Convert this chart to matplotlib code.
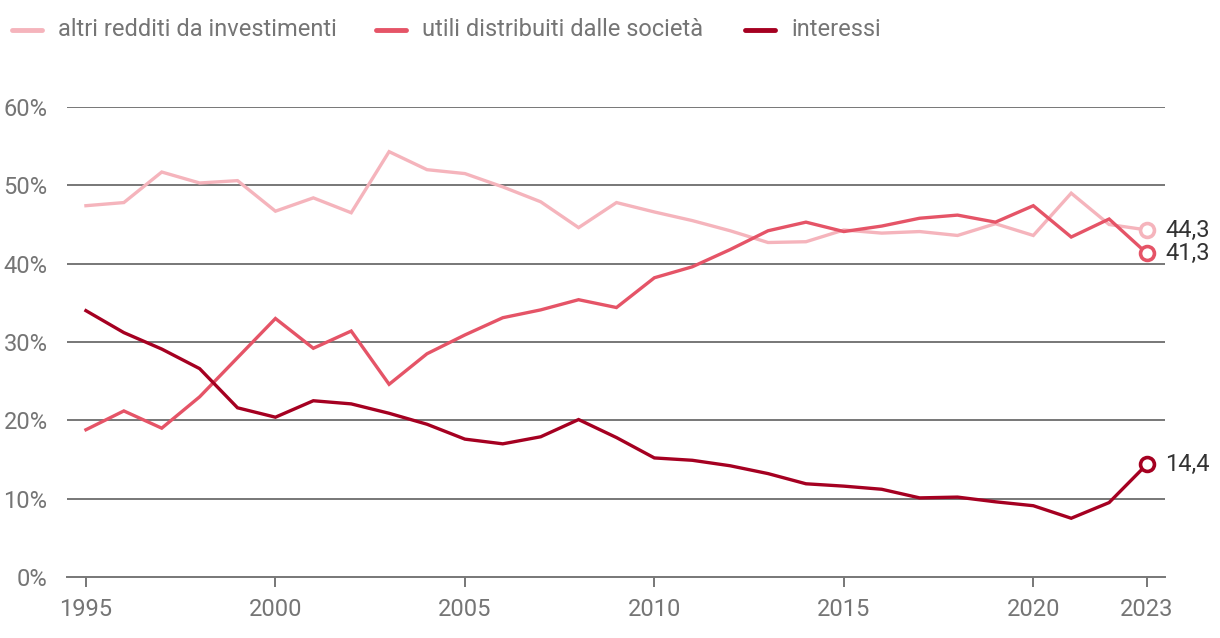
import matplotlib
matplotlib.use("Agg")
import matplotlib.pyplot as plt
from matplotlib.lines import Line2D

years = list(range(1995, 2024))
altri = [47.4, 47.8, 51.7, 50.3, 50.6, 46.7, 48.4, 46.5, 54.3, 52.0, 51.5, 49.8, 47.9, 44.6, 47.8,
         46.6, 45.5, 44.2, 42.7, 42.8, 44.3, 43.9, 44.1, 43.6, 45.1, 43.6, 49.0, 45.0, 44.3]
utili = [18.8, 21.2, 19.0, 23.0, 28.0, 33.0, 29.2, 31.4, 24.6, 28.5, 30.9, 33.1, 34.1, 35.4, 34.4,
         38.2, 39.6, 41.8, 44.2, 45.3, 44.1, 44.8, 45.8, 46.2, 45.3, 47.4, 43.4, 45.7, 41.3]
interessi = [34.0, 31.2, 29.1, 26.6, 21.6, 20.4, 22.5, 22.1, 20.9, 19.5, 17.6, 17.0, 17.9, 20.1, 17.8,
             15.2, 14.9, 14.2, 13.2, 11.9, 11.6, 11.2, 10.1, 10.2, 9.6, 9.1, 7.5, 9.5, 14.4]
names = ["altri redditi da investimenti", "utili distribuiti dalle società", "interessi"]
colors = ["#f5b4bc", "#e55467", "#a50021"]
yticks = [0, 10, 20, 30, 40, 50, 60]
xticks = [1995, 2000, 2005, 2010, 2015, 2020, 2023]

plt.rcParams['font.family'] = ['Roboto', 'DejaVu Sans']
W, H = 1220, 638
fig = plt.figure(figsize=(W/100, H/100), dpi=100)
ax = fig.add_axes([67/W, (H-577)/H, 1098/W, 470/H])

grid_c = "#777777"
FS = 17
for v in yticks[1:]:
    ax.axhline(v, color=grid_c, lw=1.4, zorder=1)

for vals, c, n in zip([altri, utili, interessi], colors, names):
    ax.plot(years, vals, color=c, lw=2.4, zorder=3, clip_on=False, solid_joinstyle='miter')
    ax.plot(years[-1], vals[-1], 'o', ms=10, mfc='white', mec=c, mew=2.6, zorder=4, clip_on=False)
    ax.annotate(f"{vals[-1]:.1f}".replace('.', ','), (years[-1], vals[-1]),
                xytext=(13, 0), textcoords='offset points', va='center', ha='left',
                fontsize=FS, color="#333333")

ax.set_xlim(1994.5, 2023.475)
ax.set_ylim(0, 60)
for s in ['top', 'right', 'left']:
    ax.spines[s].set_visible(False)
ax.spines['bottom'].set_color(grid_c)
ax.spines['bottom'].set_linewidth(1.4)
ax.set_yticks(yticks)
ax.set_yticklabels([f"{v}%" for v in yticks])
ax.set_xticks(xticks)
ax.set_xticklabels([str(x) for x in xticks])
ax.tick_params(axis='y', length=0, pad=14, labelsize=FS, labelcolor="#757575")
ax.tick_params(axis='x', length=7, width=1.4, color=grid_c, pad=8, labelsize=FS, labelcolor="#757575")

# legend (manual placement)
leg_x = [12, 376, 745]
leg_y = 1 - 30 / H
for x0, c, n in zip(leg_x, colors, names):
    fig.add_artist(Line2D([x0 / W, (x0 + 30) / W], [leg_y, leg_y], color=c, lw=3.5,
                          solid_capstyle='round', transform=fig.transFigure))
    fig.text((x0 + 46) / W, leg_y, n, fontsize=FS, color="#757575", va='center', ha='left')

fig.savefig("out.png", dpi=100)
